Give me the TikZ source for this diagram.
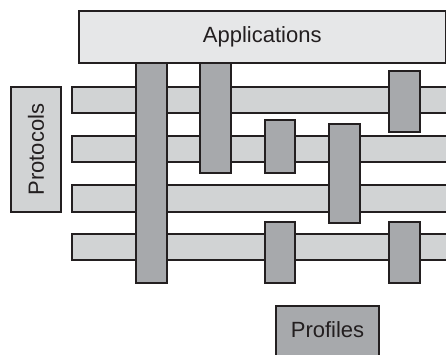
\documentclass[tikz,border=0pt]{standalone}
\usepackage{fontspec}
\setmainfont{Liberation Sans}
\definecolor{appgray}{HTML}{E6E7E8}
\definecolor{bargray}{HTML}{D1D3D4}
\definecolor{colgray}{HTML}{A7A9AC}
\definecolor{ink}{HTML}{231F20}
\begin{document}
\begin{tikzpicture}[x=1pt,y=-1pt,
  box/.style={draw=ink, line width=1.3pt, rectangle, inner sep=0pt, outer sep=0pt, anchor=north west},
  hbar/.style={box, fill=bargray},
  vbar/.style={box, fill=colgray},
  lbl/.style={font=\fontsize{22}{26}\selectfont, text=ink, inner sep=0pt}]
\useasboundingbox (0,0) rectangle (446,354);
\clip (0,0) rectangle (446,354);
% horizontal bars
\node[hbar, minimum width=400, minimum height=26] (h1) at (72,87) {};
\node[hbar, minimum width=400, minimum height=26] (h2) at (72,136) {};
\node[hbar, minimum width=400, minimum height=27] (h3) at (72,185) {};
\node[hbar, minimum width=400, minimum height=26] (h4) at (72,234) {};
% vertical bars
\node[vbar, minimum width=31, minimum height=222] (v1) at (136,61) {};
\node[vbar, minimum width=31, minimum height=112] (v2) at (200,61) {};
\node[vbar, minimum width=30, minimum height=53] (v3) at (265,120) {};
\node[vbar, minimum width=31, minimum height=99] (v4) at (329,124) {};
\node[vbar, minimum width=31, minimum height=61] (v5) at (389,71) {};
\node[vbar, minimum width=30, minimum height=61] (v6) at (265,222) {};
\node[vbar, minimum width=31, minimum height=61] (v7) at (389,222) {};
% labelled boxes
\node[box, fill=appgray, minimum width=366.5, minimum height=52] (app) at (79,11) {};
\node[lbl] (applbl) at (app.center) {Applications};
\node[box, fill=bargray, minimum width=50, minimum height=125] (prot) at (11,87) {};
\node[lbl, rotate=90] (protlbl) at (prot.center) {Protocols};
\node[box, fill=colgray, minimum width=103, minimum height=70] (prof) at (276,306) {};
\node[lbl] (proflbl) at (327.5,330) {Profiles};
\end{tikzpicture}
\end{document}
